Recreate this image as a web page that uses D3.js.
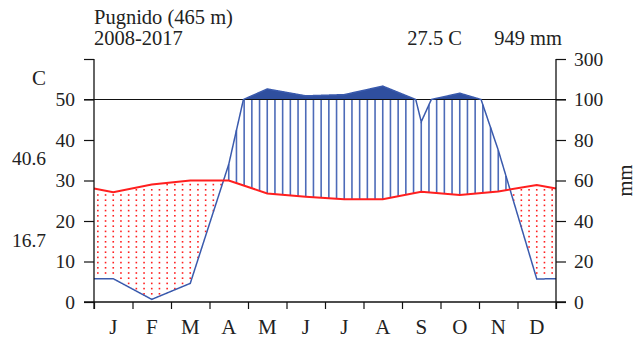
<!DOCTYPE html>
<html>
<head>
<meta charset="utf-8">
<script src="https://cdn.jsdelivr.net/npm/d3@7"></script>
<style>
  body { margin: 0; background: #fff; }
  svg { display: block; }
  text { font-family: "Liberation Serif", "Times New Roman", serif; fill: #222; }
</style>
</head>
<body>
<svg id="chart" width="635" height="338"></svg>
<script>
// monthly climate normals, Pugnido 2008-2017
const months = ["J", "F", "M", "A", "M", "J", "J", "A", "S", "O", "N", "D"];
const temp = [27.1, 29.0, 30.0, 30.0, 26.8, 26.0, 25.4, 25.4, 27.2, 26.4, 27.3, 28.9];
const prec = [11.5, 1.3, 9.2, 68, 152, 118, 124, 166, 89, 131, 75, 11.4];
const tempTicks = [0, 10, 20, 30, 40, 50, 60];
const precTicks = [0, 20, 40, 60, 80, 100, 300];
const station = "Pugnido (465 m)";
const period = "2008-2017";
const meanTemp = "27.5 C";
const totalPrec = "949 mm";
const absMax = "40.6";
const absMin = "16.7";

const svg = d3.select("#chart");
const margin = { top: 59, right: 79, bottom: 36, left: 94 };
const width = 635, height = 338;

const x = d3.scaleLinear().domain([0, 12]).range([margin.left, width - margin.right]);
const yT = d3.scaleLinear().domain([0, 60]).range([height - margin.bottom, margin.top]);
// precipitation: 2 mm per degree up to 100 mm, compressed above
const yP = d3.scaleLinear().domain([0, 100, 300]).range([yT(0), yT(50), yT(60)]);

// cyclic knots: edges get mean of Dec and Jan
const knots = [0, ...d3.range(12).map(i => i + 0.5), 12];
const tEdge = (temp[0] + temp[11]) / 2, pEdge = (prec[0] + prec[11]) / 2;
const tAt = d3.scaleLinear().domain(knots).range([tEdge, ...temp, tEdge]);
const pAt = d3.scaleLinear().domain(knots).range([pEdge, ...prec, pEdge]);

const dense = Array.from(new Set([...d3.range(0, 12, 0.01), ...knots])).sort((a, b) => a - b);

const red = "#ff1f1f", blue = "#3a5aad", hatchBlue = "#4d6bb8", darkBlue = "#2f4f9f";

// hatching (humid) and dots (dry)
const cols = d3.range(60).map(k => (k + 0.5) * 0.2);
const dotRows = d3.range(yT(0) - 3, yT(60), -5.2);
const hatch = svg.append("g");
const dots = svg.append("g");
cols.forEach(c => {
  const yt = yT(tAt(c)), yp = yP(pAt(c));
  if (yp < yt) {
    hatch.append("line")
      .attr("x1", x(c)).attr("x2", x(c))
      .attr("y1", yt).attr("y2", Math.max(yp, yT(50)))
      .attr("stroke", hatchBlue).attr("stroke-width", 1.6);
  } else {
    dotRows.filter(r => r > yt + 1 && r < yp - 1).forEach(r => {
      dots.append("rect")
        .attr("x", x(c) - 0.8).attr("y", r - 0.8)
        .attr("width", 1.6).attr("height", 1.6)
        .attr("fill", red);
    });
  }
});

// very humid part above 100 mm
svg.append("path")
  .datum(dense)
  .attr("fill", darkBlue)
  .attr("d", d3.area()
    .x(d => x(d))
    .y0(yT(50))
    .y1(d => yP(Math.max(pAt(d), 100))));

// reference line at 50 C / 100 mm
svg.append("line")
  .attr("x1", x(0) - 10).attr("x2", x(12) + 10)
  .attr("y1", yT(50)).attr("y2", yT(50))
  .attr("stroke", "#111").attr("stroke-width", 1.2);

svg.append("path")
  .datum(dense)
  .attr("fill", "none")
  .attr("stroke", blue)
  .attr("stroke-width", 1.5)
  .attr("d", d3.line().x(d => x(d)).y(d => yP(pAt(d))));

svg.append("path")
  .datum(knots)
  .attr("fill", "none")
  .attr("stroke", red)
  .attr("stroke-width", 2)
  .attr("d", d3.line().x(d => x(d)).y(d => yT(tAt(d))));

// axes
const yAxisL = d3.axisLeft(yT).tickValues(tempTicks).tickSize(10).tickPadding(9)
  .tickFormat(d => d === 60 ? "" : d);
svg.append("g")
  .attr("transform", `translate(${x(0)},0)`)
  .call(yAxisL)
  .call(g => g.select(".domain").remove())
  .call(g => g.selectAll("line").attr("stroke", "#111").attr("stroke-width", 1.2))
  .call(g => g.selectAll("text").attr("font-size", 19.5).attr("font-family", "Liberation Serif").attr("fill", "#222"));

const yAxisR = d3.axisRight(yP).tickValues(precTicks).tickSize(10).tickPadding(8);
svg.append("g")
  .attr("transform", `translate(${x(12)},0)`)
  .call(yAxisR)
  .call(g => g.select(".domain").remove())
  .call(g => g.selectAll("line").attr("stroke", "#111").attr("stroke-width", 1.2))
  .call(g => g.selectAll("text").attr("font-size", 19.5).attr("font-family", "Liberation Serif").attr("fill", "#222"));

const xAxis = d3.axisBottom(x).tickValues(d3.range(13)).tickSize(7).tickFormat("");
svg.append("g")
  .attr("transform", `translate(0,${yT(0)})`)
  .call(xAxis)
  .call(g => g.select(".domain").remove())
  .call(g => g.selectAll("line").attr("stroke", "#111").attr("stroke-width", 1.2));

// axis lines
[x(0), x(12)].forEach(px => {
  svg.append("line")
    .attr("x1", px).attr("x2", px)
    .attr("y1", yT(60)).attr("y2", yT(0) + 7)
    .attr("stroke", "#111").attr("stroke-width", 1.3);
});
svg.append("line")
  .attr("x1", x(0) - 10).attr("x2", x(12) + 10)
  .attr("y1", yT(0)).attr("y2", yT(0))
  .attr("stroke", "#111").attr("stroke-width", 1.3);

svg.append("g").selectAll("text")
  .data(months)
  .join("text")
  .attr("x", (d, i) => x(i + 0.5))
  .attr("y", yT(0) + 32)
  .attr("text-anchor", "middle")
  .attr("font-size", 21)
  .text(d => d);

// labels
svg.append("text").attr("x", x(0)).attr("y", 24).attr("font-size", 20.5).text(station);
svg.append("text").attr("x", x(0)).attr("y", 45).attr("font-size", 20.5).text(period);
svg.append("text").attr("x", 462).attr("y", 45).attr("text-anchor", "end").attr("font-size", 20.5).text(meanTemp);
svg.append("text").attr("x", 562).attr("y", 45).attr("text-anchor", "end").attr("font-size", 20.5).text(totalPrec);
svg.append("text").attr("x", 39).attr("y", 85).attr("text-anchor", "middle").attr("font-size", 21).text("C");
svg.append("text").attr("x", 29).attr("y", 165).attr("text-anchor", "middle").attr("font-size", 19.5).text(absMax);
svg.append("text").attr("x", 29).attr("y", 247).attr("text-anchor", "middle").attr("font-size", 19.5).text(absMin);
svg.append("text")
  .attr("transform", `translate(632,${yT(30)}) rotate(-90)`)
  .attr("text-anchor", "middle")
  .attr("font-size", 20.5)
  .text("mm");
</script>
</body>
</html>
